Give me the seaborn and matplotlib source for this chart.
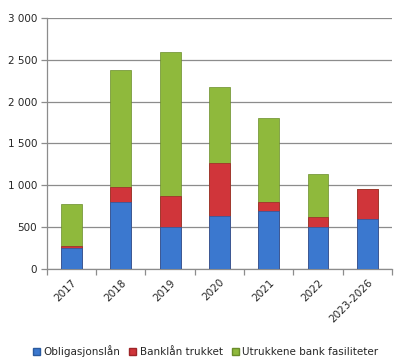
import numpy as np
import matplotlib
matplotlib.use('Agg')
import matplotlib.pyplot as plt
import matplotlib.patches as mpatches
from matplotlib.ticker import FuncFormatter
import seaborn as sns
import pandas as pd

# data
years = ['2017', '2018', '2019', '2020', '2021', '2022', '2023-2026']
obligasjonslan = [250, 800, 500, 630, 690, 500, 600]
banklan_trukket = [25, 180, 370, 640, 110, 120, 350]
utrukkene_fasiliteter = [505, 1400, 1720, 900, 1010, 510, 0]

labels = ['Obligasjonslån', 'Banklån trukket', 'Utrukkene bank fasiliteter']
colors = ['#3b78cf', '#d0353a', '#8fb93c']
edges = ['#2a5a9e', '#9e2528', '#6a8c2a']

df = pd.DataFrame({
  'year': years,
  'blue': obligasjonslan,
  'red': banklan_trukket,
  'green': utrukkene_fasiliteter,
})
df['lvl1'] = df['blue']
df['lvl2'] = df['blue'] + df['red']
df['lvl3'] = df['lvl2'] + df['green']

sns.set_style('white')
plt.rcParams['font.family'] = ['DejaVu Sans']

fig = plt.figure(figsize=(4.11, 3.61), dpi=100)
ax = fig.add_axes([0.114, 0.255, 0.84, 0.695])

# stack by drawing cumulative totals, tallest first
for col, c, e in zip(['lvl3', 'lvl2', 'lvl1'], colors[::-1], edges[::-1]):
  sns.barplot(data=df, x='year', y=col, color=c, width=0.42, saturation=1,
              edgecolor=e, linewidth=0.5, ax=ax, zorder=3)

ax.set_ylim(0, 3000)
ax.set_xlim(-0.5, len(years) - 0.5)
ax.set_yticks(np.arange(0, 3001, 500))
ax.yaxis.set_major_formatter(FuncFormatter(lambda v, p: f'{int(v):,}'.replace(',', ' ')))
ax.grid(axis='y', color='#8c8c8c', linewidth=0.9, zorder=0)
ax.set_axisbelow(True)
ax.set_xlabel('')
ax.set_ylabel('')

for s in ['top', 'right']:
  ax.spines[s].set_visible(False)
for s in ['left', 'bottom']:
  ax.spines[s].set_color('#8c8c8c')
  ax.spines[s].set_linewidth(0.9)

# excel style ticks between categories
ax.set_xticks(np.arange(len(years)))
ax.set_xticklabels(years, rotation=45, ha='right', rotation_mode='anchor', fontsize=7.5)
ax.set_xticks(np.arange(-0.5, len(years)), minor=True)
ax.tick_params(axis='x', which='major', length=0, pad=6)
ax.tick_params(axis='x', which='minor', length=4, color='#8c8c8c', width=0.9, bottom=True)
ax.tick_params(axis='y', length=4, color='#8c8c8c', width=0.9, labelsize=7.5, left=True, pad=3)

handles = [mpatches.Patch(facecolor=c, edgecolor=e, label=l) for c, e, l in zip(colors, edges, labels)]
fig.legend(handles=handles, loc='lower center', bbox_to_anchor=(0.5, -0.015), ncol=3,
           frameon=False, fontsize=7.5, handlelength=0.7, handleheight=0.7,
           handletextpad=0.3, columnspacing=0.9)

plt.savefig('out.png', dpi=100)
